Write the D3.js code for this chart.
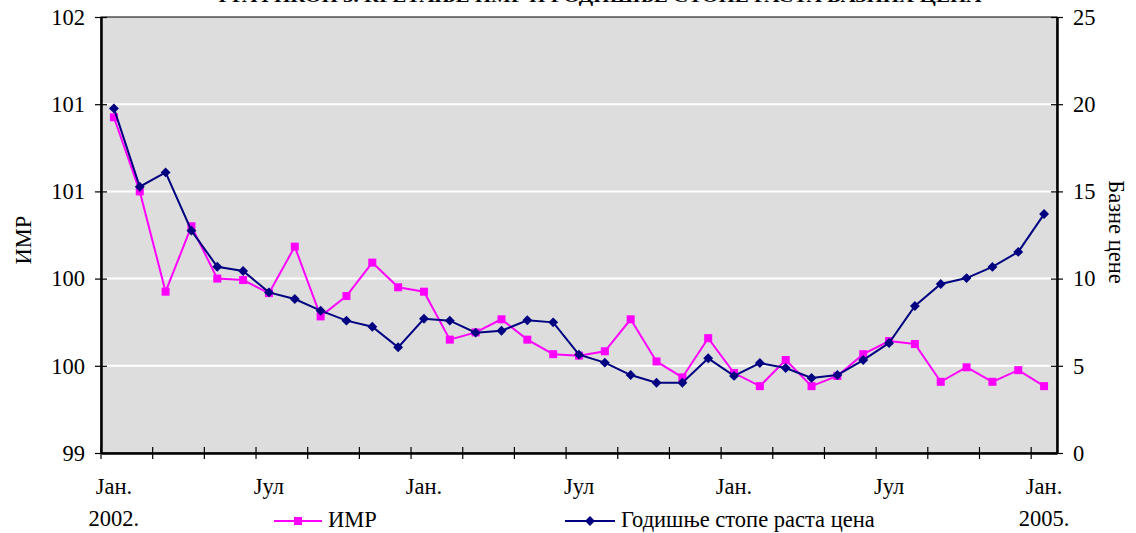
<!DOCTYPE html>
<html><head><meta charset="utf-8">
<script src="https://cdn.jsdelivr.net/npm/d3@7"></script>
<style>body{margin:0;background:#fff}svg{display:block}</style>
</head><body><svg id="c" width="1136" height="533" font-family="Times New Roman, Liberation Serif, serif"></svg>
<script>
const months = ["01.2002","02.2002","03.2002","04.2002","05.2002","06.2002","07.2002","08.2002","09.2002","10.2002","11.2002","12.2002",
"01.2003","02.2003","03.2003","04.2003","05.2003","06.2003","07.2003","08.2003","09.2003","10.2003","11.2003","12.2003",
"01.2004","02.2004","03.2004","04.2004","05.2004","06.2004","07.2004","08.2004","09.2004","10.2004","11.2004","12.2004","01.2005"];
const imr = [101.31,100.80,100.11,100.56,100.20,100.19,100.10,100.42,99.94,100.08,100.31,100.14,
100.11,99.78,99.83,99.92,99.78,99.68,99.67,99.70,99.92,99.63,99.52,99.79,
99.55,99.46,99.64,99.46,99.53,99.68,99.77,99.75,99.49,99.59,99.49,99.57,99.46];
const basePrices = [19.76,15.27,16.09,12.75,10.68,10.44,9.21,8.83,8.16,7.59,7.24,6.06,
7.70,7.59,6.90,7.01,7.61,7.49,5.64,5.18,4.47,4.03,4.03,5.43,
4.42,5.16,4.87,4.30,4.47,5.33,6.31,8.43,9.69,10.03,10.67,11.53,13.70];
const leftTicks = [99,99.6,100.2,100.8,101.4,102];
const rightTicks = [0,5,10,15,20,25];
const xLabelIdx = [0,6,12,18,24,30,36];
const xLabels = ["Јан.","Јул","Јан.","Јул","Јан.","Јул","Јан."];
const yearLabels = [{i:0,t:"2002."},{i:36,t:"2005."}];
const seriesNames = ["ИМР","Годишње стопе раста цена"];
const titleText = "ГРАФИКОН 3. КРЕТАЊЕ ИМР И ГОДИШЊЕ СТОПЕ РАСТА БАЗНИХ ЦЕНА";

const FONT = 'Times New Roman, Liberation Serif, serif';
const FS = "22.5px";
const svg = d3.select("#c");
const L=101,R=1057,T=17,B=453;
const xb = d3.scaleBand().domain(months).range([L,R]).paddingInner(0).paddingOuter(0);
const xc = m => xb(m)+xb.bandwidth()/2;
const yL = d3.scaleLinear().domain([99,102]).range([B,T]);
const yR = d3.scaleLinear().domain([0,25]).range([B,T]);

svg.append("text").attr("x",600).attr("y",2).attr("text-anchor","middle")
 .style("font-size","17px").attr("font-weight","bold").attr("textLength",763).attr("lengthAdjust","spacingAndGlyphs").text(titleText);

svg.append("rect").attr("x",L).attr("y",T).attr("width",R-L).attr("height",B-T).attr("fill","#dddddd").attr("stroke","#000").attr("stroke-width",1);
svg.append("g").selectAll("line").data(leftTicks.slice(1,-1)).join("line")
 .attr("x1",L).attr("x2",R).attr("y1",d=>yL(d)).attr("y2",d=>yL(d)).attr("stroke","#fff").attr("stroke-width",2);

const gl = svg.append("g").attr("transform",`translate(${L},0)`)
 .call(d3.axisLeft(yL).tickValues(leftTicks).tickFormat(d3.format(".0f")).tickSizeInner(6).tickSizeOuter(0).tickPadding(10));
gl.selectAll(".tick line").attr("x2",6).attr("x1",-6);
const gr = svg.append("g").attr("transform",`translate(${R},0)`)
 .call(d3.axisRight(yR).tickValues(rightTicks).tickSizeInner(6).tickSizeOuter(0).tickPadding(10));
gr.selectAll(".tick line").attr("x1",-6).attr("x2",6);
const gb = svg.append("g").attr("transform",`translate(0,${B})`)
 .call(d3.axisBottom(xb).tickValues(months.filter((m,i)=>i%2===0)).tickFormat("").tickSizeOuter(0).tickSizeInner(6));
gb.selectAll(".tick").attr("transform",d=>`translate(${xb(d)},0)`);
gb.selectAll(".tick line").attr("y1",-6).attr("y2",6);
[gl,gr,gb].forEach(g=>{g.attr("font-family",FONT).attr("font-size",22.5);
 g.selectAll("text").style("font-size",FS).attr("fill","#000");
 g.select(".domain").attr("stroke","#000").attr("stroke-width",2.5);
 g.selectAll(".tick line").attr("stroke","#000").attr("stroke-width",1.2);});

svg.append("g").selectAll("text").data(xLabelIdx).join("text")
 .attr("x",i=>xc(months[i])).attr("y",494).attr("text-anchor","middle").style("font-size",FS).text((d,k)=>xLabels[k]);
svg.append("g").selectAll("text").data(yearLabels).join("text")
 .attr("x",d=>xc(months[d.i])).attr("y",526).attr("text-anchor","middle").style("font-size",FS).text(d=>d.t);

svg.append("text").attr("transform","translate(31,240) rotate(-90)").attr("text-anchor","middle").style("font-size",FS).text(seriesNames[0]);
svg.append("text").attr("transform","translate(1109,232) rotate(90)").attr("text-anchor","middle").style("font-size",FS).text("Базне цене");

const pink="#ff00ff", navy="#000080";
svg.append("path").datum(imr).attr("fill","none").attr("stroke",pink).attr("stroke-width",2)
 .attr("d",d3.line().x((d,i)=>xc(months[i])).y(d=>yL(d)));
svg.append("g").selectAll("rect").data(imr).join("rect")
 .attr("x",(d,i)=>xc(months[i])-4).attr("y",d=>yL(d)-4).attr("width",8).attr("height",8).attr("fill",pink);
svg.append("path").datum(basePrices).attr("fill","none").attr("stroke",navy).attr("stroke-width",2)
 .attr("d",d3.line().x((d,i)=>xc(months[i])).y(d=>yR(d)));
svg.append("g").selectAll("path").data(basePrices).join("path")
 .attr("transform",(d,i)=>`translate(${xc(months[i])},${yR(d)}) rotate(45)`)
 .attr("d","M-3.5,-3.5H3.5V3.5H-3.5Z").attr("fill",navy);

const lg = svg.append("g");
lg.append("line").attr("x1",274).attr("x2",322).attr("y1",521).attr("y2",521).attr("stroke",pink).attr("stroke-width",2);
lg.append("rect").attr("x",294).attr("y",517).attr("width",8).attr("height",8).attr("fill",pink);
lg.append("text").attr("x",328).attr("y",527).style("font-size",FS).text(seriesNames[0]);
lg.append("line").attr("x1",565).attr("x2",615).attr("y1",521).attr("y2",521).attr("stroke",navy).attr("stroke-width",2);
lg.append("path").attr("transform","translate(590,521) rotate(45)").attr("d","M-3.5,-3.5H3.5V3.5H-3.5Z").attr("fill",navy);
lg.append("text").attr("x",621).attr("y",527).style("font-size",FS).text(seriesNames[1]);
</script></body></html>
